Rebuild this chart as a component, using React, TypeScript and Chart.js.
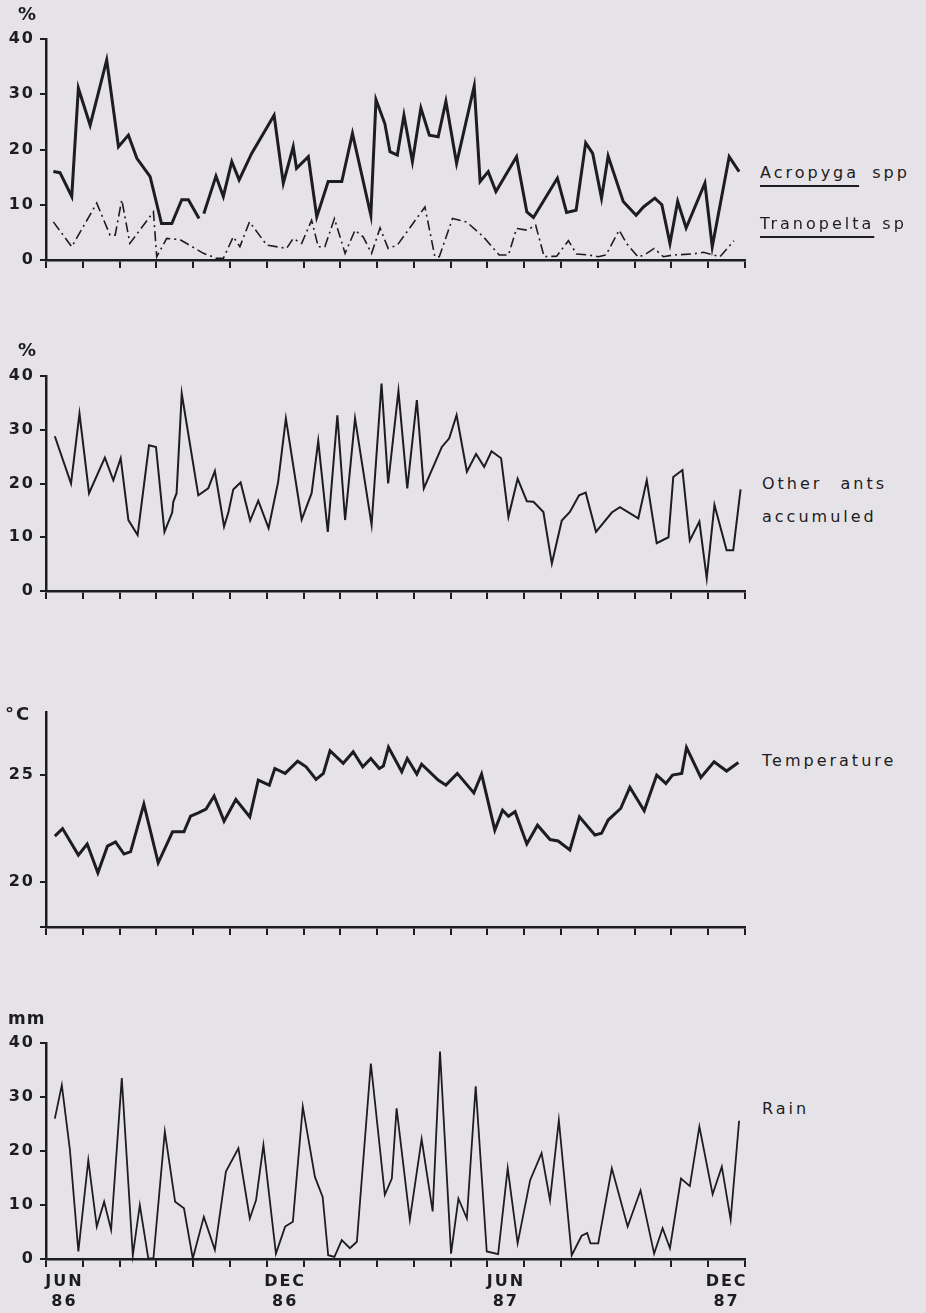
import React, { useEffect, useRef } from "react";
import { Chart, registerables } from "chart.js";

Chart.register(...registerables);

const INK = "#1d1c20";
const BG = "#e6e3e8";
const FONT = "'DejaVu Sans', sans-serif";

// x axis in months: 0 = start of Jun 86, 19 = end of Dec 87
const monthCount = 19;
const monthLabelPos = [0.5, 6.5, 12.5, 18.5];
const monthLabels = [["JUN", "86"], ["DEC", "86"], ["JUN", "87"], ["DEC", "87"]];

const pctTicks = [0, 10, 20, 30, 40];
const pctTickLabels = ["0", "10", "20", "30", "40"];
const tempTicks = [17.9, 20, 25];
const tempTickLabels = ["", "20", "25"];

const acropygaX = [0.20, 0.38, 0.70, 0.88, 1.20, 1.65, 1.97, 2.24, 2.47, 2.83, 3.14, 3.42, 3.69, 3.87, 4.16, 4.23, 4.29, 4.62, 4.82, 5.05, 5.25, 5.59, 6.20, 6.45, 6.72, 6.81, 7.13, 7.36, 7.67, 8.04, 8.33, 8.83, 8.88, 8.97, 9.21, 9.35, 9.55, 9.73, 9.96, 10.19, 10.42, 10.66, 10.87, 11.16, 11.64, 11.80, 12.02, 12.23, 12.79, 13.07, 13.25, 13.90, 14.15, 14.41, 14.67, 14.86, 15.10, 15.28, 15.69, 16.04, 16.24, 16.55, 16.74, 16.96, 17.17, 17.40, 17.91, 18.11, 18.57, 18.84];
const acropygaY = [16.0, 15.8, 11.5, 31.1, 24.4, 36.2, 20.5, 22.6, 18.4, 15.1, 6.6, 6.6, 10.9, 10.9, 7.5, null, 8.4, 15.2, 11.5, 17.8, 14.5, 19.3, 26.2, 13.9, 20.5, 16.6, 18.7, 7.8, 14.2, 14.2, 22.9, 8.1, 15.7, 29.0, 24.7, 19.6, 19.0, 26.2, 17.8, 27.5, 22.6, 22.3, 28.7, 17.5, 31.5, 14.2, 16.0, 12.4, 18.7, 8.7, 7.7, 14.8, 8.6, 9.0, 21.2, 19.3, 11.2, 18.8, 10.6, 8.1, 9.6, 11.2, 10.0, 3.0, 10.6, 5.8, 13.9, 2.4, 18.7, 16.0];

const tranopeltaX = [0.20, 0.70, 1.38, 1.74, 1.88, 2.06, 2.28, 2.92, 3.01, 3.28, 3.64, 4.28, 4.64, 4.82, 5.09, 5.27, 5.53, 6.00, 6.54, 6.72, 6.95, 7.22, 7.40, 7.58, 7.84, 8.13, 8.40, 8.62, 8.85, 9.08, 9.30, 9.55, 10.30, 10.57, 10.69, 11.05, 11.43, 11.89, 12.32, 12.57, 12.79, 13.07, 13.31, 13.54, 13.88, 14.20, 14.42, 14.74, 15.01, 15.22, 15.58, 15.78, 16.10, 16.33, 16.53, 16.78, 17.05, 17.59, 17.87, 18.32, 18.70];
const tranopeltaY = [6.9, 2.4, 10.3, 4.5, 4.5, 10.9, 3.0, 8.7, 0.6, 3.9, 3.7, 1.2, 0.3, 0.3, 4.2, 2.4, 6.9, 2.7, 2.1, 3.9, 3.0, 7.2, 2.4, 2.4, 7.5, 1.2, 5.4, 4.2, 1.2, 5.8, 2.1, 2.7, 9.6, 0.6, 0.6, 7.5, 6.9, 4.2, 0.9, 0.9, 5.7, 5.4, 6.3, 0.6, 0.7, 3.5, 1.1, 0.9, 0.6, 0.9, 5.4, 3.0, 0.5, 1.2, 2.1, 0.6, 0.9, 1.1, 1.4, 0.6, 3.5];

const otherAntsX = [0.24, 0.68, 0.91, 1.17, 1.60, 1.83, 2.03, 2.24, 2.49, 2.80, 2.99, 3.22, 3.43, 3.46, 3.55, 3.69, 4.14, 4.41, 4.59, 4.84, 4.96, 5.09, 5.29, 5.55, 5.77, 6.05, 6.31, 6.52, 6.95, 7.22, 7.40, 7.66, 7.92, 8.13, 8.40, 8.85, 9.12, 9.30, 9.58, 9.82, 10.08, 10.27, 10.76, 10.96, 11.16, 11.44, 11.69, 11.91, 12.11, 12.37, 12.57, 12.82, 13.07, 13.25, 13.52, 13.75, 14.02, 14.24, 14.49, 14.67, 14.95, 15.38, 15.60, 16.10, 16.33, 16.60, 16.92, 17.05, 17.30, 17.50, 17.76, 17.96, 18.17, 18.50, 18.68, 18.88];
const otherAntsY = [28.8, 20.0, 33.0, 18.2, 24.8, 20.6, 24.7, 13.2, 10.4, 27.1, 26.8, 11.0, 14.6, 16.6, 18.2, 36.7, 17.8, 19.1, 22.3, 12.0, 14.7, 18.9, 20.2, 13.1, 16.8, 11.7, 20.3, 32.1, 13.3, 18.2, 27.9, 11.0, 32.7, 13.2, 32.1, 12.3, 38.6, 20.0, 37.2, 19.1, 35.5, 19.1, 26.8, 28.4, 32.7, 22.2, 25.5, 23.1, 26.0, 24.7, 13.8, 20.9, 16.7, 16.6, 14.7, 5.1, 13.1, 14.7, 17.8, 18.3, 11.0, 14.6, 15.6, 13.5, 20.6, 8.9, 10.0, 21.2, 22.5, 9.4, 12.9, 2.4, 16.0, 7.6, 7.6, 18.9];

const temperatureX = [0.24, 0.45, 0.88, 1.12, 1.41, 1.67, 1.89, 2.12, 2.30, 2.66, 3.05, 3.44, 3.75, 3.93, 4.14, 4.35, 4.57, 4.84, 5.16, 5.54, 5.77, 6.07, 6.22, 6.50, 6.84, 7.07, 7.34, 7.54, 7.72, 8.08, 8.35, 8.61, 8.83, 9.06, 9.17, 9.31, 9.67, 9.82, 10.08, 10.21, 10.66, 10.87, 11.18, 11.63, 11.84, 12.20, 12.41, 12.57, 12.75, 13.07, 13.36, 13.70, 13.92, 14.24, 14.50, 14.92, 15.10, 15.28, 15.62, 15.87, 16.26, 16.60, 16.85, 17.03, 17.28, 17.41, 17.80, 18.16, 18.50, 18.82];
const temperatureY = [22.15, 22.5, 21.26, 21.78, 20.43, 21.68, 21.88, 21.31, 21.42, 23.64, 20.9, 22.35, 22.35, 23.08, 23.24, 23.41, 24.02, 22.85, 23.86, 23.05, 24.77, 24.53, 25.31, 25.08, 25.65, 25.39, 24.8, 25.08, 26.14, 25.55, 26.09, 25.39, 25.78, 25.31, 25.42, 26.3, 25.16, 25.78, 25.05, 25.51, 24.77, 24.53, 25.08, 24.17, 25.05, 22.43, 23.36, 23.08, 23.29, 21.78, 22.66, 21.99, 21.92, 21.5, 23.05, 22.2, 22.28, 22.9, 23.44, 24.43, 23.33, 25.0, 24.61, 25.0, 25.08, 26.29, 24.89, 25.62, 25.19, 25.59];

const rainX = [0.24, 0.43, 0.65, 0.88, 1.15, 1.38, 1.58, 1.77, 2.06, 2.36, 2.55, 2.78, 2.92, 3.23, 3.51, 3.75, 3.99, 4.29, 4.59, 4.89, 5.23, 5.54, 5.71, 5.91, 6.25, 6.50, 6.71, 6.98, 7.31, 7.52, 7.67, 7.84, 8.04, 8.26, 8.45, 8.83, 9.21, 9.40, 9.53, 9.89, 10.21, 10.51, 10.71, 11.01, 11.21, 11.44, 11.68, 11.98, 12.29, 12.55, 12.82, 13.16, 13.47, 13.70, 13.94, 14.29, 14.56, 14.71, 14.80, 15.01, 15.38, 15.81, 16.16, 16.53, 16.76, 16.96, 17.26, 17.50, 17.76, 18.12, 18.37, 18.61, 18.84];
const rainY = [26.0, 32.2, 20.2, 1.4, 18.3, 6.0, 10.6, 5.4, 33.5, 0.7, 10.0, 0.1, 0.1, 23.6, 10.6, 9.4, 0.1, 7.8, 1.7, 16.2, 20.5, 7.5, 10.9, 21.1, 1.0, 6.0, 6.9, 28.2, 15.2, 11.5, 0.7, 0.4, 3.5, 2.0, 3.2, 36.2, 11.9, 14.9, 27.9, 7.3, 22.2, 8.8, 38.4, 1.0, 11.2, 7.5, 32.0, 1.4, 0.9, 16.8, 2.9, 14.6, 19.6, 10.9, 25.7, 0.7, 4.3, 4.8, 2.9, 2.9, 16.8, 6.0, 12.7, 1.0, 5.7, 2.0, 14.9, 13.5, 24.5, 12.0, 17.1, 7.3, 25.6];

type Series = { x: number[]; y: (number | null)[]; width: number; dash?: number[] };

type PanelProps = {
  top: number;
  height: number;
  padTop: number;
  xHeight: number;
  yMin: number;
  yMax: number;
  yTicks: number[];
  yTickLabels: string[];
  showXLabels: boolean;
  series: Series[];
};

const spacingPlugin = {
  id: "letterSpacing",
  beforeDraw(chart: any) {
    chart.ctx.letterSpacing = "2px";
  },
  afterDraw(chart: any) {
    chart.ctx.letterSpacing = "0px";
  },
};

function Panel(p: PanelProps) {
  const ref = useRef<HTMLCanvasElement>(null);
  useEffect(() => {
    if (!ref.current) return;
    const chart = new Chart(ref.current, {
      type: "line",
      data: {
        datasets: p.series.map((s) => ({
          data: s.x.map((x, i) => ({ x, y: s.y[i] })),
          borderColor: INK,
          borderWidth: s.width,
          borderDash: s.dash || [],
          pointRadius: 0,
          tension: 0,
          fill: false,
          spanGaps: false,
          clip: false,
        })),
      },
      options: {
        responsive: false,
        animation: false,
        devicePixelRatio: 1,
        layout: { padding: { top: p.padTop, right: 15, bottom: 0, left: 0 } },
        plugins: { legend: { display: false }, tooltip: { enabled: false } },
        scales: {
          x: {
            type: "linear",
            min: 0,
            max: monthCount,
            afterFit: (s: any) => {
              s.height = p.xHeight;
            },
            afterBuildTicks: (s: any) => {
              const t: number[] = [];
              for (let i = 0; i <= monthCount; i++) t.push(i);
              monthLabelPos.forEach((v) => t.push(v));
              t.sort((a, b) => a - b);
              s.ticks = t.map((v) => ({ value: v }));
            },
            ticks: {
              autoSkip: false,
              maxRotation: 0,
              minRotation: 0,
              padding: 4,
              color: INK,
              font: { family: FONT, size: 16, weight: "bold", lineHeight: 1.3 },
              callback: (v: any) => {
                const k = monthLabelPos.indexOf(Number(v));
                return p.showXLabels && k >= 0 ? monthLabels[k] : "";
              },
            },
            grid: {
              drawOnChartArea: false,
              drawTicks: true,
              tickLength: 8,
              lineWidth: 2,
              tickColor: (ctx: any) =>
                ctx.tick && Number.isInteger(ctx.tick.value) ? INK : "rgba(0,0,0,0)",
            },
            border: { display: true, color: INK, width: 2.5 },
          },
          y: {
            min: p.yMin,
            max: p.yMax,
            afterFit: (s: any) => {
              s.width = 46;
            },
            afterBuildTicks: (s: any) => {
              s.ticks = p.yTicks.map((v) => ({ value: v }));
            },
            ticks: {
              autoSkip: false,
              padding: 5,
              color: INK,
              font: { family: FONT, size: 16, weight: "bold" },
              callback: (_v: any, i: number) => p.yTickLabels[i],
            },
            grid: {
              drawOnChartArea: false,
              drawTicks: true,
              tickLength: 6,
              lineWidth: 2,
              tickColor: INK,
            },
            border: { display: true, color: INK, width: 2.5 },
          },
        },
      },
      plugins: [spacingPlugin],
    } as any);
    return () => chart.destroy();
  }, []);
  return (
    <canvas
      ref={ref}
      width={760}
      height={p.height}
      style={{ position: "absolute", left: 0, top: p.top, width: 760, height: p.height }}
    />
  );
}

const txt = (extra: React.CSSProperties): React.CSSProperties => ({
  position: "absolute",
  fontFamily: FONT,
  fontSize: 16,
  lineHeight: 1,
  color: INK,
  letterSpacing: 3,
  whiteSpace: "nowrap",
  ...extra,
});

const uline: React.CSSProperties = {
  textDecoration: "underline",
  textDecorationThickness: 2,
  textUnderlineOffset: 7,
};

export default function App() {
  return (
    <div style={{ position: "absolute", left: 0, top: 0, width: 926, height: 1313, background: BG, overflow: "hidden" }}>
      <Panel
        top={0}
        height={280}
        padTop={39}
        xHeight={20}
        yMin={0}
        yMax={40}
        yTicks={pctTicks}
        yTickLabels={pctTickLabels}
        showXLabels={false}
        series={[
          { x: acropygaX, y: acropygaY, width: 3 },
          { x: tranopeltaX, y: tranopeltaY, width: 1.6, dash: [10, 4, 2, 4] },
        ]}
      />
      <Panel
        top={330}
        height={281}
        padTop={46}
        xHeight={20}
        yMin={0}
        yMax={40}
        yTicks={pctTicks}
        yTickLabels={pctTickLabels}
        showXLabels={false}
        series={[{ x: otherAntsX, y: otherAntsY, width: 2 }]}
      />
      <Panel
        top={690}
        height={257}
        padTop={22}
        xHeight={20}
        yMin={17.9}
        yMax={27.95}
        yTicks={tempTicks}
        yTickLabels={tempTickLabels}
        showXLabels={false}
        series={[{ x: temperatureX, y: temperatureY, width: 3 }]}
      />
      <Panel
        top={1000}
        height={313}
        padTop={43}
        xHeight={54}
        yMin={0}
        yMax={40}
        yTicks={pctTicks}
        yTickLabels={pctTickLabels}
        showXLabels={true}
        series={[{ x: rainX, y: rainY, width: 1.8 }]}
      />

      <div style={txt({ left: 18, top: 5, fontSize: 18, fontWeight: "bold", letterSpacing: 0 })}>%</div>
      <div style={txt({ left: 18, top: 341, fontSize: 18, fontWeight: "bold", letterSpacing: 0 })}>%</div>
      <div style={txt({ left: 5, top: 705, fontSize: 18, fontWeight: "bold", letterSpacing: 2 })}>°C</div>
      <div style={txt({ left: 8, top: 1010, fontSize: 17, fontWeight: "bold", letterSpacing: 1 })}>mm</div>

      <div style={txt({ left: 760, top: 165, wordSpacing: 5 })}>
        <span style={uline}>Acropyga</span> spp
      </div>
      <div style={txt({ left: 760, top: 216 })}>
        <span style={uline}>Tranopelta</span> sp
      </div>
      <div style={txt({ left: 762, top: 476, wordSpacing: 10 })}>Other ants</div>
      <div style={txt({ left: 762, top: 509 })}>accumuled</div>
      <div style={txt({ left: 762, top: 753 })}>Temperature</div>
      <div style={txt({ left: 762, top: 1101 })}>Rain</div>
    </div>
  );
}
